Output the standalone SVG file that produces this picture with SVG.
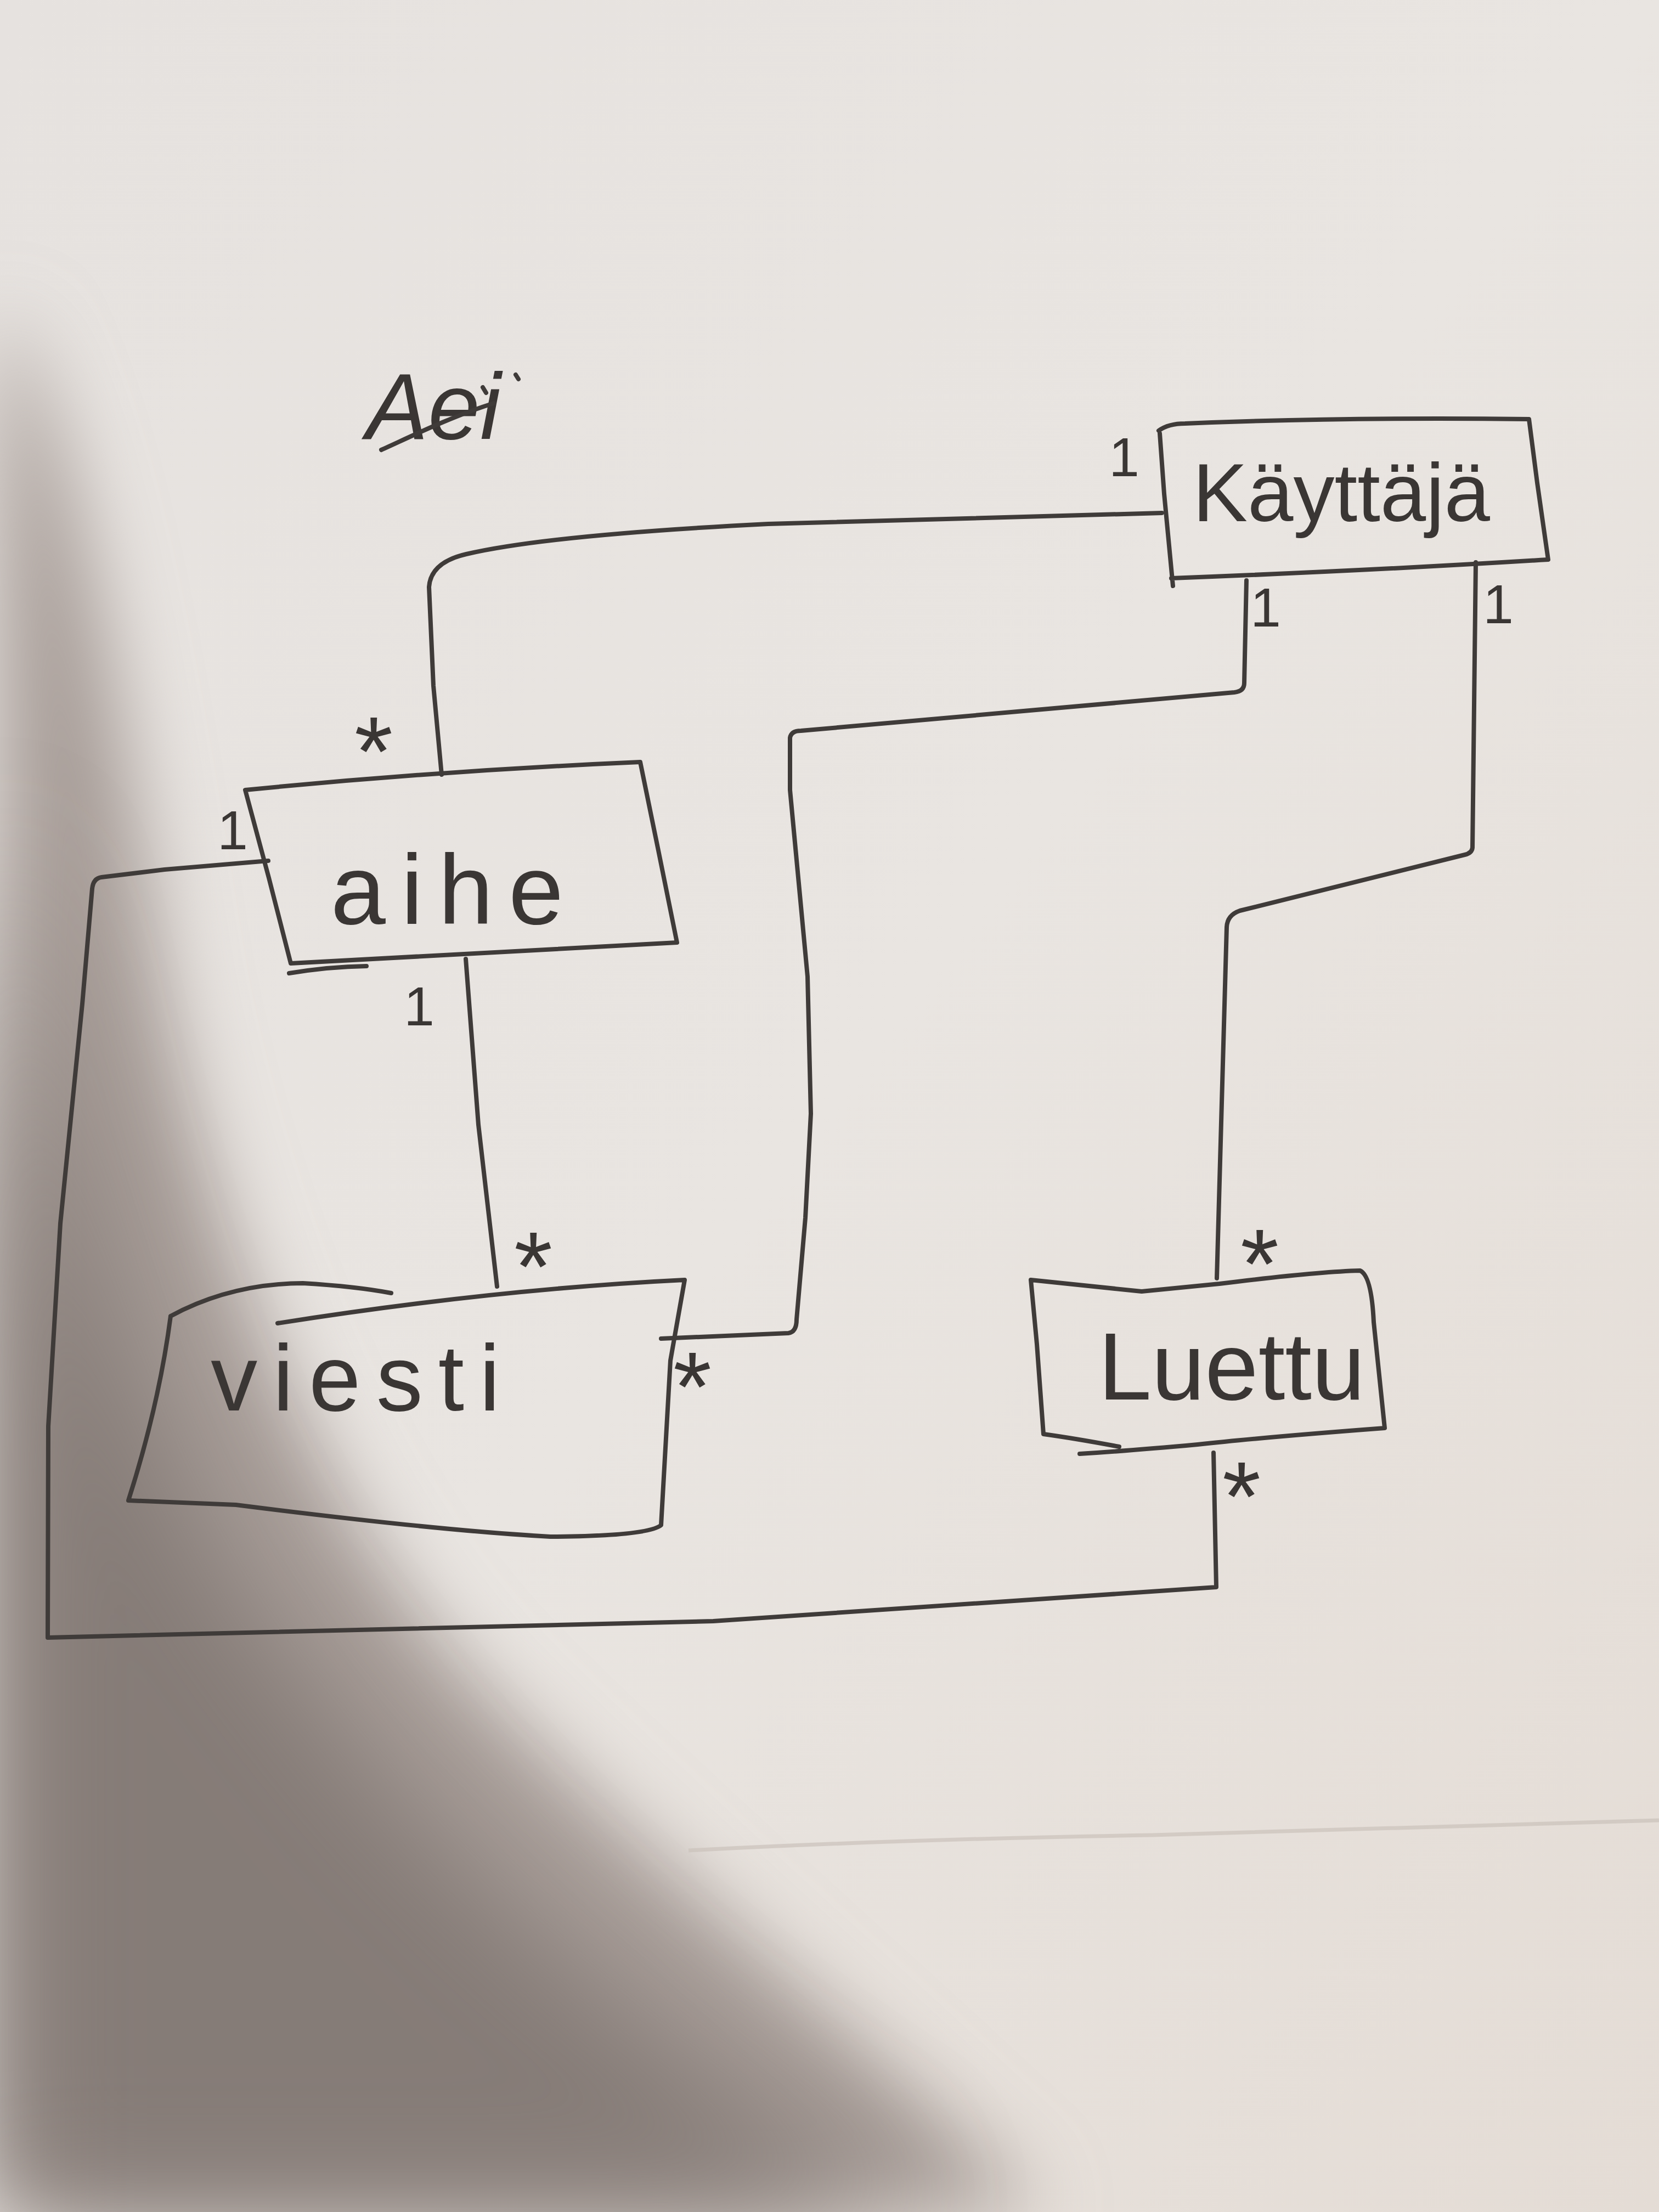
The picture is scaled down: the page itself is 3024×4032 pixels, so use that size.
<svg xmlns="http://www.w3.org/2000/svg" width="3024" height="4032" viewBox="0 0 3024 4032">
<defs>
<linearGradient id="paper" x1="0" y1="0" x2="1" y2="1">
<stop offset="0" stop-color="#e6e2df"/>
<stop offset="0.5" stop-color="#e9e5e1"/>
<stop offset="1" stop-color="#e4dcd5"/>
</linearGradient>
<filter id="soft" x="-20%" y="-20%" width="140%" height="140%"><feGaussianBlur stdDeviation="70"/></filter>
<filter id="softer" x="-20%" y="-20%" width="140%" height="140%"><feGaussianBlur stdDeviation="110"/></filter>
<style>
.ln{fill:none;stroke:#3f3b39;stroke-width:8;stroke-linecap:round;stroke-linejoin:round}
.box{fill:none;stroke:#3f3b39;stroke-width:8;stroke-linecap:round;stroke-linejoin:round}
.lbl{font-family:"Liberation Sans",Arial,sans-serif;fill:#3a3634;text-anchor:middle}
.mul{font-family:"Liberation Sans",Arial,sans-serif;fill:#3a3634;text-anchor:middle;font-size:100px}
.ast{font-family:"Liberation Sans",Arial,sans-serif;fill:#3a3634;text-anchor:middle;font-size:180px}
</style>
</defs>

<!-- paper and lighting -->
<g id="background">
<rect x="0" y="0" width="3024" height="4032" fill="url(#paper)"/>
<path d="M0,560 C150,800 220,1300 300,1800 C400,2300 600,2800 900,3100 C1200,3400 1550,3700 1900,4032 L0,4032 Z" fill="#a89e99" filter="url(#soft)"/>
<path d="M0,1500 C120,2100 260,2700 560,3050 C850,3450 1300,3800 1680,4032 L0,4032 Z" fill="#857b77" filter="url(#softer)"/>
<path d="M1255,3373 C1500,3360 1800,3350 2100,3345 C2500,3335 2800,3325 3024,3318" fill="none" stroke="#cbc2bb" stroke-width="7" opacity="0.7"/>
</g>

<!-- crossed-out scribble -->
<g id="scribble">
<text x="790" y="800" class="lbl" font-size="170" font-style="italic">Aei</text>
<path class="ln" d="M695,820 C740,800 820,760 900,735 M880,706 l6,10 M940,683 l5,8" stroke-width="6"/>
</g>

<!-- connectors -->
<g id="connectors">
<path class="ln" d="M2118,935 L1400,955 Q1000,975 850,1010 Q785,1025 782,1070 L790,1250 L805,1412"/>
<path class="ln" d="M489,1569 L300,1585 L185,1599 Q170,1601 168,1620 L150,1830 L110,2230 L88,2600 L87,2985 L1300,2955 L2217,2893 L2212,2648"/>
<path class="ln" d="M849,1748 L872,2050 L906,2345"/>
<path class="ln" d="M1205,2440 L1437,2430 Q1452,2428 1452,2405 L1468,2220 L1478,2030 L1472,1780 L1440,1440 L1440,1345 Q1442,1332 1460,1332 L2250,1262 Q2268,1260 2268,1245 L2272,1058"/>
<path class="ln" d="M2690,1025 L2684,1545 Q2683,1555 2670,1558 L2260,1660 Q2237,1668 2236,1690 L2218,2330"/>
</g>

<!-- multiplicities -->
<g id="multiplicities">
<text class="mul" x="2049" y="868">1</text>
<text class="mul" x="2307" y="1142">1</text>
<text class="mul" x="2731" y="1136">1</text>
<text class="mul" x="424" y="1548">1</text>
<text class="mul" x="764" y="1869">1</text>
<text class="ast" x="681" y="1432">*</text>
<text class="ast" x="972" y="2371">*</text>
<text class="ast" x="1262" y="2590">*</text>
<text class="ast" x="2296" y="2366">*</text>
<text class="ast" x="2263" y="2790">*</text>
</g>

<!-- nodes -->
<g id="node-kayttaja">
<path class="box" d="M2112,785 Q2130,772 2160,772 Q2450,760 2787,764 L2802,880 L2822,1020 Q2500,1040 2135,1054 M2114,790 L2122,900 L2138,1068"/>
<text class="lbl" x="2445" y="950" font-size="150">Käyttäjä</text>
</g>

<g id="node-aihe">
<path class="box" d="M447,1440 Q800,1405 1167,1389 L1200,1550 L1234,1718 Q900,1735 530,1756 L490,1600 Z M527,1774 Q600,1762 668,1761"/>
<text class="lbl" x="829" y="1684" font-size="180" letter-spacing="28">aihe</text>
</g>

<g id="node-viesti">
<path class="box" d="M311,2399 Q420,2340 552,2339 Q650,2345 713,2357 M506,2412 Q900,2350 1248,2333 L1222,2480 L1205,2780 Q1180,2800 1003,2801 Q800,2790 430,2743 L234,2735 Q290,2560 311,2399"/>
<text class="lbl" x="662" y="2571" font-size="170" letter-spacing="28">viesti</text>
</g>

<g id="node-luettu">
<path class="box" d="M1879,2333 L2081,2354 L2223,2340 Q2400,2318 2479,2316 Q2500,2325 2504,2410 L2524,2603 Q2300,2620 2183,2633 Q2050,2645 1968,2650 M2040,2637 Q1960,2622 1902,2614 L1890,2450 L1879,2333"/>
<text class="lbl" x="2245" y="2551" font-size="175">Luettu</text>
</g>
</svg>
